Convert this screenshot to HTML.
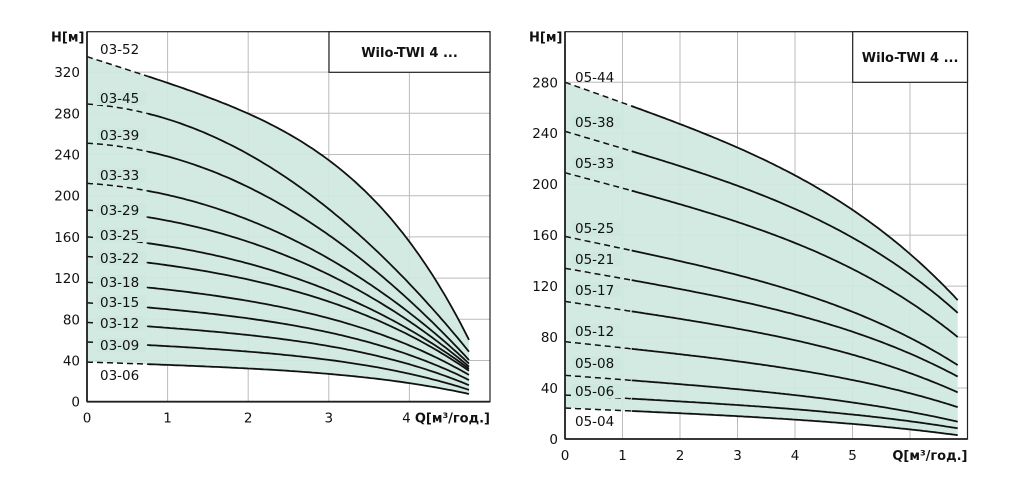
<!DOCTYPE html>
<html><head><meta charset="utf-8"><style>
html,body{margin:0;padding:0;background:#fff;width:1010px;height:493px;overflow:hidden}
svg text{font-family:"DejaVu Sans","Liberation Sans",sans-serif;fill:#111}
</style></head><body>
<svg id="s" width="1010" height="493" xmlns="http://www.w3.org/2000/svg"></svg>
<script>
var S=document.getElementById('s'),out='';
function chart(c){
 var X=function(q){return c.x0+q*c.sx},Y=function(h){return c.y0-h*c.sy};
 for(var q=1;q<c.qmax;q++)out+='<line x1="'+X(q)+'" y1="'+c.top+'" x2="'+X(q)+'" y2="'+c.y0+'" stroke="#bbb" stroke-width="1"/>';
 for(var h=c.hs;h<c.hmax;h+=c.hs)out+='<line x1="'+c.x0+'" y1="'+Y(h)+'" x2="'+X(c.qmax)+'" y2="'+Y(h)+'" stroke="#bbb" stroke-width="1"/>';
 var curves=c.curves.map(function(cv){var pts=[];for(var q=0;q<=c.qe+1e-6;q+=0.04){var qq=Math.min(q,c.qe);pts.push([qq,cv.H0-(cv.H0-cv.He)*cv.g(qq/c.qe)]);}if(pts[pts.length-1][0]<c.qe)pts.push([c.qe,cv.He]);return {cv:cv,pts:pts};});
 var top=curves[0].pts,bot=curves[curves.length-1].pts,d='M';
 top.forEach(function(p,i){d+=(i?'L':'')+X(p[0]).toFixed(1)+','+Y(p[1]).toFixed(1)});
 bot.slice().reverse().forEach(function(p){d+='L'+X(p[0]).toFixed(1)+','+Y(p[1]).toFixed(1)});
 out+='<path d="'+d+'Z" fill="#cfe8df" fill-opacity="0.92"/>';
 curves.forEach(function(o){var a='',b='';o.pts.forEach(function(p){var s=X(p[0]).toFixed(1)+','+Y(p[1]).toFixed(1);if(p[0]<=o.cv.qs+1e-6)a+=(a?'L':'M')+s;if(p[0]>=o.cv.qs-0.04)b+=(b?'L':'M')+s;});
  out+='<path d="'+a+'" fill="none" stroke="#111" stroke-width="1.5" stroke-dasharray="6,4"/>';
  out+='<path d="'+b+'" fill="none" stroke="#111" stroke-width="1.8"/>';});
 c.curves.forEach(function(cv,i){var last=(i==c.curves.length-1);
  if(i>0&&!last)out+='<rect x="'+(c.lx-3)+'" y="'+(cv.ly-7)+'" width="49" height="14" fill="#cfe8df"/>';
  out+='<text x="'+c.lx+'" y="'+(cv.ly+5)+'" font-size="13.5">'+cv.n+'</text>';});
 out+='<rect x="'+c.x0+'" y="'+c.top+'" width="'+(X(c.qmax)-c.x0)+'" height="'+(c.y0-c.top)+'" fill="none" stroke="#222" stroke-width="1.2"/>';
 out+='<line x1="'+c.x0+'" y1="'+c.top+'" x2="'+c.x0+'" y2="'+c.y0+'" stroke="#222" stroke-width="1.8"/><line x1="'+c.x0+'" y1="'+c.y0+'" x2="'+X(c.qmax)+'" y2="'+c.y0+'" stroke="#222" stroke-width="1.8"/>';
 out+='<rect x="'+c.bx+'" y="'+c.top+'" width="'+(X(c.qmax)-c.bx)+'" height="'+c.bh+'" fill="#fff" stroke="#222" stroke-width="1.2"/>';
 out+='<text x="'+(c.bx+(X(c.qmax)-c.bx)/2)+'" y="'+(c.top+c.bh/2+5)+'" font-size="13" font-weight="bold" text-anchor="middle">Wilo-TWI 4 ...</text>';
 for(var h=0;h<c.hmax;h+=c.hs)out+='<text x="'+(c.x0-7)+'" y="'+(Y(h)+5)+'" font-size="13.5" text-anchor="end">'+h+'</text>';
 for(var q=0;q<c.qlab;q++)out+='<text x="'+(X(q)+(q==c.qlab-1&&c.shift?-3:0))+'" y="'+(c.y0+21)+'" font-size="13.5" text-anchor="middle">'+q+'</text>';
 out+='<text x="'+(c.x0-36)+'" y="'+(c.top+10)+'" font-size="13" font-weight="bold">H[м]</text>';
 out+='<text x="'+X(c.qmax)+'" y="'+(c.y0+21)+'" font-size="13" font-weight="bold" text-anchor="end">Q[м³/год.]</text>';
}
function gA(x){return 0.434*x+0.566*Math.pow(x,4);}
function gB(x){return 0.1*x+0.9*x*x;}
function mixg(t){return function(x){return (1-t)*gA(x)+t*gB(x);};}
var L=[["03-52",335,60,0,49,0.77],["03-45",289,48.5,1,98,0.8],["03-39",251,40.5,1,135,0.8],["03-33",212,37,0.9,175,0.8],["03-29",186,34,0.8,210,0.8],["03-25",160,32,0.7,235,0.8],["03-22",141,30,0.5,258,0.8],["03-18",116,26,0.4,282,0.8],["03-15",96,21,0.3,302,0.8],["03-12",77,16,0.2,323,0.8],["03-09",58,11.5,0.15,345,0.8],["03-06",38.5,7.5,0.1,375,0.8]];
chart({x0:87,sx:80.6,y0:401.7,sy:1.03,top:31.7,qmax:5,hmax:360,hs:40,qe:4.74,qlab:5,shift:1,lx:100,bx:329,bh:40.6,
 curves:L.map(function(a){return {n:a[0],H0:a[1],He:a[2],g:mixg(a[3]),ly:a[4],qs:a[5]}})});
function gR(x){return 0.64*x+0.36*Math.pow(x,3.6);}
var R=[["05-44",280,109,77],["05-38",241.5,99,122],["05-33",209,80,163],["05-25",159,58,228],["05-21",134,49,259],["05-17",108,36.6,290],["05-12",76.4,25,331],["05-08",50,13.6,363],["05-06",34.5,8.4,391],["05-04",24.3,3,421]];
chart({x0:565,sx:57.5,y0:439,sy:1.274,top:31.7,qmax:7,hmax:320,hs:40,qe:6.83,qlab:6,shift:0,lx:575,bx:852.7,bh:50.6,
 curves:R.map(function(a){return {n:a[0],H0:a[1],He:a[2],g:gR,ly:a[3],qs:1.2}})});
S.innerHTML=out;
</script>
</body></html>
